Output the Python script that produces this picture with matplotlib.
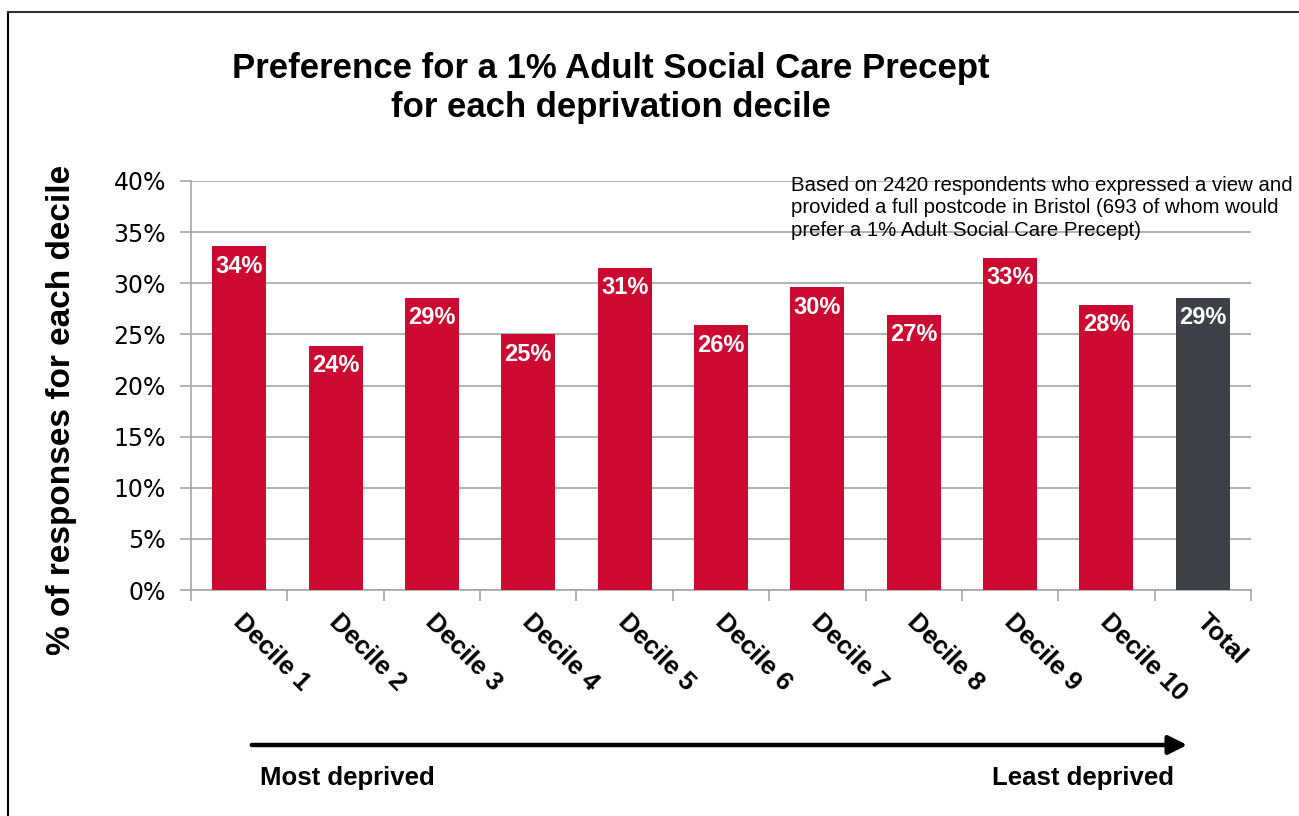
import matplotlib
matplotlib.use("Agg")
import matplotlib.pyplot as plt
from matplotlib.lines import Line2D
from matplotlib.patches import FancyArrowPatch
from matplotlib.transforms import ScaledTranslation
import numpy as np

categories = ["Decile 1", "Decile 2", "Decile 3", "Decile 4", "Decile 5",
              "Decile 6", "Decile 7", "Decile 8", "Decile 9", "Decile 10", "Total"]
values = [33.6, 23.9, 28.6, 25.0, 31.5, 25.9, 29.6, 26.9, 32.5, 27.9, 28.6]
value_labels = ["34%", "24%", "29%", "25%", "31%", "26%", "30%", "27%", "33%", "28%", "29%"]
y_ticks = [0, 5, 10, 15, 20, 25, 30, 35, 40]

RED = "#CC0A31"
DARK = "#3D4148"
GRID = "#A6A6A6"
SANS = ["Liberation Sans", "DejaVu Sans"]
W, H = 1299, 816

fig = plt.figure(figsize=(W / 100, H / 100), dpi=100)
ax = fig.add_axes([191 / W, 1 - 590 / H, (1251 - 191) / W, (590 - 181) / H])

x = np.arange(len(categories))
colors = [RED] * (len(categories) - 1) + [DARK]
bars = ax.bar(x, values, width=0.56, color=colors, zorder=3)

for b, lab in zip(bars, value_labels):
    ax.annotate(lab, (b.get_x() + b.get_width() / 2, b.get_height()),
                xytext=(0, -6), textcoords="offset points",
                ha="center", va="top", color="white", fontsize=17,
                fontweight="bold", family=SANS, zorder=4)

ax.set_xlim(-0.5, len(categories) - 0.5)
ax.set_ylim(0, 40)
ax.set_yticks(y_ticks)
ax.set_yticklabels([f"{t}%" for t in y_ticks], fontsize=17, family="DejaVu Sans")
ax.yaxis.grid(True, color=GRID, lw=1.2, zorder=0)
ax.set_axisbelow(True)

# category boundaries carry the tick marks, labels sit under each bar
ax.set_xticks(np.arange(len(categories) + 1) - 0.5)
ax.set_xticklabels([])
ax.tick_params(axis="x", which="major", length=8, color=GRID, width=1.2)
ax.set_xticks(x, minor=True)
ax.set_xticklabels(categories, minor=True, rotation=-45, ha="left", va="top",
                   rotation_mode="anchor", fontsize=18.5, fontweight="bold", family=SANS)
ax.tick_params(axis="x", which="minor", length=0, pad=14)
shift = ScaledTranslation(6 / 100, 0, fig.dpi_scale_trans)
for lbl in ax.get_xticklabels(minor=True):
    lbl.set_transform(lbl.get_transform() + shift)
ax.tick_params(axis="y", length=8, color=GRID, width=1.2, pad=10)

for s in ["top", "right"]:
    ax.spines[s].set_visible(False)
for s in ["left", "bottom"]:
    ax.spines[s].set_color(GRID)
    ax.spines[s].set_linewidth(1.2)

fig.text(62 / W, 1 - 410 / H, "% of responses for each decile", rotation=90,
         ha="center", va="center", fontsize=24, fontweight="bold", family=SANS)

fig.text(611 / W, 1 - 88 / H,
         "Preference for a 1% Adult Social Care Precept\nfor each deprivation decile",
         ha="center", va="center", fontsize=25, fontweight="bold", family=SANS,
         linespacing=1.22)

fig.text(791 / W, 1 - 176 / H,
         "Based on 2420 respondents who expressed a view and\n"
         "provided a full postcode in Bristol (693 of whom would\n"
         "prefer a 1% Adult Social Care Precept)",
         ha="left", va="top", fontsize=14.7, family=SANS, linespacing=1.22)

# direction arrow beneath the categories
fig.patches.append(FancyArrowPatch(
    (249 / W, 1 - 745 / H), (1190 / W, 1 - 745 / H),
    transform=fig.transFigure, arrowstyle="-|>,head_length=0.8,head_width=0.4",
    mutation_scale=14, lw=3.2, color="black"))
fig.text(260 / W, 1 - 778 / H, "Most deprived", ha="left", va="center",
         fontsize=18.5, fontweight="bold", family=SANS)
fig.text(1174 / W, 1 - 778 / H, "Least deprived", ha="right", va="center",
         fontsize=18.5, fontweight="bold", family=SANS)

# frame along the top and left edges
fig.add_artist(Line2D([8 / W, 8 / W], [0, 1 - 11.5 / H],
                      transform=fig.transFigure, color="black", lw=1.5))
fig.add_artist(Line2D([8 / W, 1], [1 - 11.5 / H, 1 - 11.5 / H],
                      transform=fig.transFigure, color="#333333", lw=1.5))

fig.savefig("out.png", dpi=100)
